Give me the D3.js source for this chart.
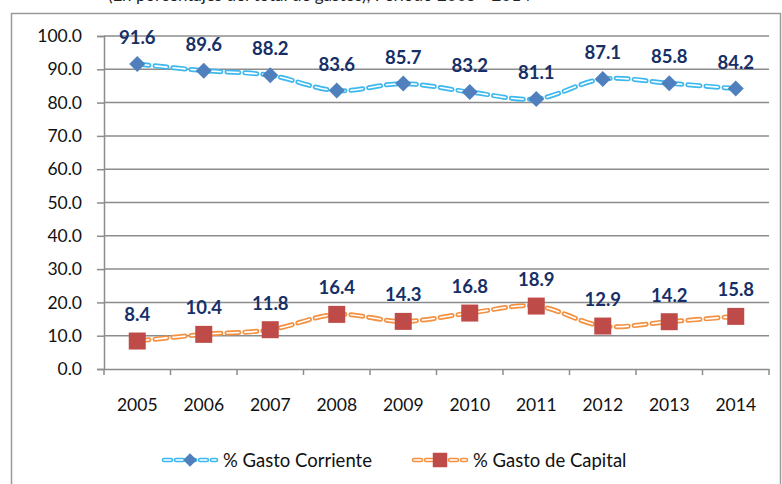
<!DOCTYPE html>
<html>
<head>
<meta charset="utf-8">
<script src="https://cdn.jsdelivr.net/npm/d3@7"></script>
<style>
  body { margin: 0; background: #fff; }
  svg { display: block; font-family: Lato, "Open Sans", sans-serif; }
</style>
</head>
<body>
<svg width="782" height="484"></svg>
<script>
const years = ["2005", "2006", "2007", "2008", "2009", "2010", "2011", "2012", "2013", "2014"];
const gasto_corriente = [91.6, 89.6, 88.2, 83.6, 85.7, 83.2, 81.1, 87.1, 85.8, 84.2];
const gasto_capital = [8.4, 10.4, 11.8, 16.4, 14.3, 16.8, 18.9, 12.9, 14.2, 15.8];
const y_ticks = [0, 10, 20, 30, 40, 50, 60, 70, 80, 90, 100];
const series_names = ["% Gasto Corriente", "% Gasto de Capital"];

const svg = d3.select("svg");

// title is mostly cut off by the top edge in the original
svg.append("text")
  .attr("x", 108)
  .attr("y", 1)
  .attr("font-size", 17)
  .attr("fill", "#222")
  .text("(En porcentajes del total de gastos), Periodo 2005 - 2014");

// chart border
svg.append("rect")
  .attr("x", 11.5).attr("y", 13.5)
  .attr("width", 769).attr("height", 480)
  .attr("fill", "none")
  .attr("stroke", "#9a9a9a")
  .attr("stroke-width", 1.5);

const x = d3.scaleBand().domain(years).range([104, 769]);
const y = d3.scaleLinear().domain([0, 100]).range([369, 36]);

const grid_color = "#8c8c8c";

// gridlines
svg.append("g")
  .selectAll("line")
  .data(y_ticks.filter((d) => d > 0))
  .enter()
  .append("line")
  .attr("x1", 104).attr("x2", 769)
  .attr("y1", (d) => y(d)).attr("y2", (d) => y(d))
  .attr("stroke", grid_color)
  .attr("stroke-width", 1.5);

// y axis
const yAxis = svg.append("g")
  .attr("transform", "translate(104,0)")
  .call(d3.axisLeft(y).tickValues(y_ticks).tickFormat(d3.format(".1f")).tickSize(7).tickPadding(15));

// x axis
const xAxis = svg.append("g")
  .attr("transform", "translate(0,369)")
  .call(d3.axisBottom(x).tickSize(0).tickPadding(30));

// tick marks sit between the categories
xAxis.selectAll(".tick")
  .append("line")
  .attr("x1", x.bandwidth() / 2).attr("x2", x.bandwidth() / 2)
  .attr("y1", 0).attr("y2", 6);
xAxis.append("line")
  .attr("x1", x(years[0])).attr("x2", x(years[0]))
  .attr("y1", 0).attr("y2", 6)
  .attr("stroke", grid_color)
  .attr("stroke-width", 1.5);

[yAxis, xAxis].forEach((ax) => {
  ax.select(".domain").attr("stroke", grid_color).attr("stroke-width", 1.5);
  ax.selectAll(".tick line").attr("stroke", grid_color).attr("stroke-width", 1.5);
  ax.selectAll("text").attr("font-size", 17.5).attr("fill", "#111").attr("font-family", "Lato, sans-serif");
});

const cx = (i) => x(years[i]) + x.bandwidth() / 2;

const line = d3.line()
  .x((d, i) => cx(i))
  .y((d) => y(d))
  .curve(d3.curveCatmullRom.alpha(0.5));

function drawSeries(values, color, markerColor, marker) {
  const g = svg.append("g");
  g.append("path")
    .attr("d", line(values))
    .attr("fill", "none")
    .attr("stroke", color)
    .attr("stroke-width", 5)
    .attr("stroke-dasharray", "12,6")
    .attr("stroke-linecap", "round");
  g.append("path")
    .attr("d", line(values))
    .attr("fill", "none")
    .attr("stroke", "#fff")
    .attr("stroke-width", 1.6)
    .attr("stroke-dasharray", "12,6")
    .attr("stroke-linecap", "round");

  g.selectAll(".marker")
    .data(values)
    .enter()
    .append("path")
    .attr("class", "marker")
    .attr("transform", (d, i) => `translate(${cx(i)},${y(d)})`)
    .attr("d", marker)
    .attr("fill", markerColor);

  g.selectAll(".label")
    .data(values)
    .enter()
    .append("text")
    .attr("class", "label")
    .attr("x", (d, i) => cx(i))
    .attr("y", (d) => y(d) - 20)
    .attr("text-anchor", "middle")
    .attr("font-size", 18.5)
    .attr("font-weight", "bold")
    .attr("fill", "#172f67")
    .text((d) => d.toFixed(1));
}

const diamond = "M0,-8L8,0L0,8L-8,0Z";
const square = "M-8.5,-8.5H8.5V8.5H-8.5Z";

drawSeries(gasto_corriente, "#3cb8ee", "#4f7fbd", diamond);
drawSeries(gasto_capital, "#f39141", "#be4b48", square);

// legend
const legend = [
  { name: series_names[0], x: 162, color: "#3cb8ee", fill: "#4f7fbd", marker: diamond },
  { name: series_names[1], x: 412, color: "#f39141", fill: "#be4b48", marker: square }
];
const lg = svg.selectAll(".legend")
  .data(legend)
  .enter()
  .append("g")
  .attr("class", "legend")
  .attr("transform", (d) => `translate(${d.x},460)`);
lg.append("line")
  .attr("x1", 2).attr("x2", 54)
  .attr("stroke", (d) => d.color)
  .attr("stroke-width", 4.5)
  .attr("stroke-dasharray", "7,5")
  .attr("stroke-linecap", "round");
lg.append("line")
  .attr("x1", 2).attr("x2", 54)
  .attr("stroke", "#fff")
  .attr("stroke-width", 1.4)
  .attr("stroke-dasharray", "7,5")
  .attr("stroke-linecap", "round");
lg.append("path")
  .attr("transform", "translate(28,0) scale(0.85)")
  .attr("d", (d) => d.marker)
  .attr("fill", (d) => d.fill);
lg.append("text")
  .attr("x", 61)
  .attr("y", 6.5)
  .attr("font-size", 18.5)
  .attr("fill", "#111")
  .text((d) => d.name);
</script>
</body>
</html>
